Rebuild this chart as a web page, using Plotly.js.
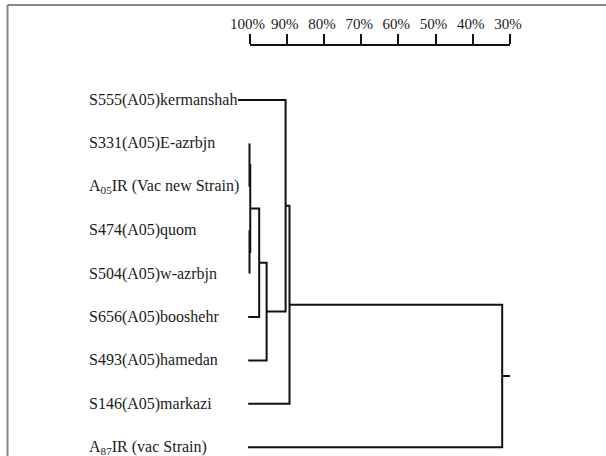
<!DOCTYPE html>
<html>
<head>
<meta charset="utf-8">
<script src="https://cdn.plot.ly/plotly-3.0.1.min.js"></script>
<style>html,body{margin:0;padding:0;background:#fff;}#chart{width:606px;height:456px;}</style>
</head>
<body>
<div id="chart"></div>
<script>
// ---- data ----
const leafLabels = [
  "S555(A05)kermanshah",
  "S331(A05)E-azrbjn",
  "A<sub>05</sub>IR (Vac new Strain)",
  "S474(A05)quom",
  "S504(A05)w-azrbjn",
  "S656(A05)booshehr",
  "S493(A05)hamedan",
  "S146(A05)markazi",
  "A<sub>87</sub>IR (vac Strain)"
];
// similarity (%) where each leaf's branch begins
const leafStart = [103.1, 100, 100, 100, 100, 100.35, 100.35, 100.35, 100.4];
// linkage: node ids 0-8 are leaves, merges create nodes 9,10,...
const mergeA = [1, 3, 9, 11, 12, 0, 14, 15];
const mergeB = [2, 4, 10, 5, 6, 13, 7, 8];
const mergeSim = [100, 100, 99.8, 97.4, 95.4, 90.3, 89.25, 32.1];
const rootEnd = 30;
const scaleVals = [100, 90, 80, 70, 60, 50, 40, 30];
const scaleText = ["100%", "90%", "80%", "70%", "60%", "50%", "40%", "30%"];

// ---- layout geometry ----
const FIG_W = 606, FIG_H = 456;
const M = {l: 234, r: 96, t: 46, b: 0};
const plotW = FIG_W - M.l - M.r, plotH = FIG_H - M.t - M.b;
const scaleLeftPx = 249.5, scaleRightPx = 510;
const pxPerPct = (scaleRightPx - scaleLeftPx) / 70;
const xLeftPct = 100 + (scaleLeftPx - M.l) / pxPerPct;
const xRightPct = 30 - (M.l + plotW - scaleRightPx) / pxPerPct;
const leafTopPx = 100, leafStepPx = 43.4;
const yTop = (M.t - leafTopPx) / leafStepPx;
const yBot = (FIG_H - M.b - leafTopPx) / leafStepPx;

// ---- build dendrogram paths ----
const nodeY = leafLabels.map((_, i) => i);
const nodeH = leafStart.slice();
const xs = [], ys = [];
for (let k = 0; k < mergeA.length; k++) {
  const a = mergeA[k], b = mergeB[k], h = mergeSim[k];
  xs.push(nodeH[a], h, h, nodeH[b], null);
  ys.push(nodeY[a], nodeY[a], nodeY[b], nodeY[b], null);
  nodeY.push((nodeY[a] + nodeY[b]) / 2);
  nodeH.push(h);
}
const root = nodeY.length - 1;
xs.push(nodeH[root], rootEnd, null);
ys.push(nodeY[root], nodeY[root], null);

const traces = [
  {x: xs, y: ys, mode: 'lines', line: {color: '#111', width: 2}, hoverinfo: 'skip', showlegend: false},
  {x: scaleVals, y: scaleVals.map(() => yBot + 5), xaxis: 'x2', mode: 'markers',
   marker: {opacity: 0}, hoverinfo: 'skip', showlegend: false}
];

const pxX = p => (p - M.l) / plotW;
const pxY = p => 1 - (p - M.t) / plotH;

const annotations = leafLabels.map((t, i) => ({
  text: t, xref: 'paper', yref: 'y', x: pxX(87), y: i,
  xanchor: 'left', yanchor: 'middle', showarrow: false,
  font: {family: 'Liberation Serif', size: 16, color: '#1a1a1a'}
}));

const layout = {
  width: FIG_W, height: FIG_H,
  margin: M,
  paper_bgcolor: '#fff', plot_bgcolor: 'rgba(0,0,0,0)',
  showlegend: false,
  xaxis: {range: [xLeftPct, xRightPct], visible: false, fixedrange: true},
  xaxis2: {
    range: [100, 30], domain: [(scaleLeftPx - M.l) / plotW, (scaleRightPx - M.l) / plotW],
    anchor: 'y', side: 'top',
    showline: true, linecolor: '#111', linewidth: 2,
    ticks: 'outside', ticklen: 10, tickwidth: 2, tickcolor: '#111',
    tickmode: 'array', tickvals: scaleVals, ticktext: scaleText,
    showgrid: false, zeroline: false, ticklabelshift: 2, ticklabelstandoff: -1,
    tickfont: {family: 'Liberation Serif', size: 15, color: '#1a1a1a'}
  },
  yaxis: {range: [yBot, yTop], visible: false, fixedrange: true},
  annotations: annotations,
  shapes: [
    {type: 'line', xref: 'paper', yref: 'paper', x0: pxX(7.5), x1: pxX(606), y0: pxY(5), y1: pxY(5),
     line: {color: '#888', width: 2}},
    {type: 'line', xref: 'paper', yref: 'paper', x0: pxX(7.5), x1: pxX(7.5), y0: pxY(5), y1: pxY(456),
     line: {color: '#888', width: 2}}
  ]
};

Plotly.newPlot('chart', traces, layout, {displayModeBar: false, staticPlot: true});
</script>
</body>
</html>
